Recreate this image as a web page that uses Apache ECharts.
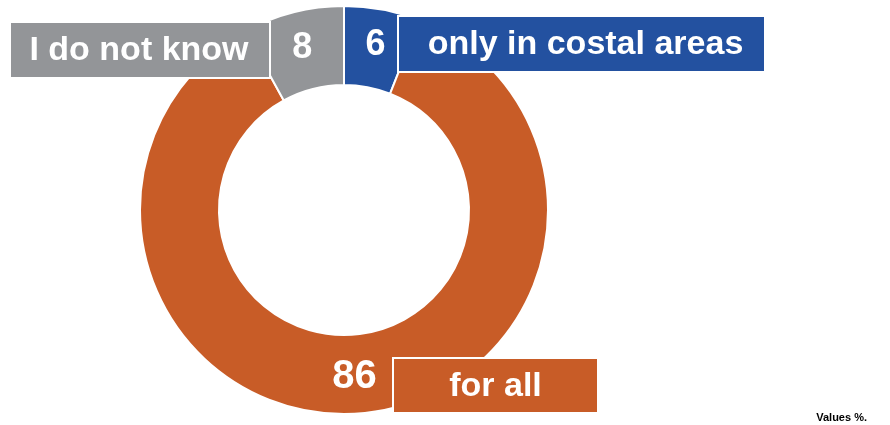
<!DOCTYPE html>
<html>
<head>
<meta charset="utf-8">
<script src="https://cdn.jsdelivr.net/npm/echarts@6/dist/echarts.min.js"></script>
<style>
  html, body { margin: 0; padding: 0; background: #ffffff; }
  #chart { width: 890px; height: 425px; }
</style>
</head>
<body>
<div id="chart"></div>
<script>
// Survey answers, in percent (clockwise from 12 o'clock)
const categories = ['only in costal areas', 'for all', 'I do not know'];
const values = [6, 86, 8];
const colors = ['#2351a0', '#c85c27', '#939598'];
const footnote = 'Values %.';

const FONT = '"Liberation Sans", Arial, Helvetica, sans-serif';
const digitSizes = [36, 40, 36];

const chart = echarts.init(document.getElementById('chart'), null, { renderer: 'canvas' });

// Caption boxes beside each slice (dx nudges the caption inside its box)
const boxes = [
  { x: 398, y: 16, w: 367, h: 56, size: 34, dx: 4 },  // only in costal areas
  { x: 393, y: 358, w: 205, h: 55, size: 34, dx: 0 }, // for all
  { x: 10, y: 22, w: 260, h: 56, size: 34, dx: -1 }   // I do not know
];

const graphics = [];
boxes.forEach((b, i) => {
  graphics.push({
    type: 'rect',
    z: 100,
    shape: { x: b.x, y: b.y, width: b.w, height: b.h },
    style: { fill: colors[i], stroke: '#ffffff', lineWidth: 2 }
  });
  graphics.push({
    type: 'text',
    z: 101,
    x: b.x + b.w / 2 + b.dx,
    y: b.y + b.h / 2 + 1,
    style: {
      text: categories[i],
      fill: '#ffffff',
      font: 'bold ' + b.size + 'px ' + FONT,
      align: 'center',
      verticalAlign: 'middle'
    }
  });
});

graphics.push({
  type: 'text',
  z: 101,
  x: 867,
  y: 418,
  style: {
    text: footnote,
    fill: '#000000',
    font: 'bold 11px ' + FONT,
    align: 'right',
    verticalAlign: 'middle'
  }
});

chart.setOption({
  animation: false,
  backgroundColor: '#ffffff',
  series: [{
    type: 'pie',
    center: [344, 210],
    radius: [125, 204],
    startAngle: 90,
    clockwise: true,
    silent: true,
    z: 2,
    itemStyle: { borderColor: '#ffffff', borderWidth: 2 },
    label: {
      show: true,
      position: 'inside',
      formatter: '{c}',
      color: '#ffffff',
      fontFamily: FONT,
      fontWeight: 'bold',
      fontSize: 36
    },
    labelLine: { show: false },
    emphasis: { disabled: true },
    data: categories.map((name, i) => ({
      name: name,
      value: values[i],
      itemStyle: { color: colors[i] },
      label: { fontSize: digitSizes[i] }
    }))
  }],
  graphic: graphics
});
</script>
</body>
</html>
